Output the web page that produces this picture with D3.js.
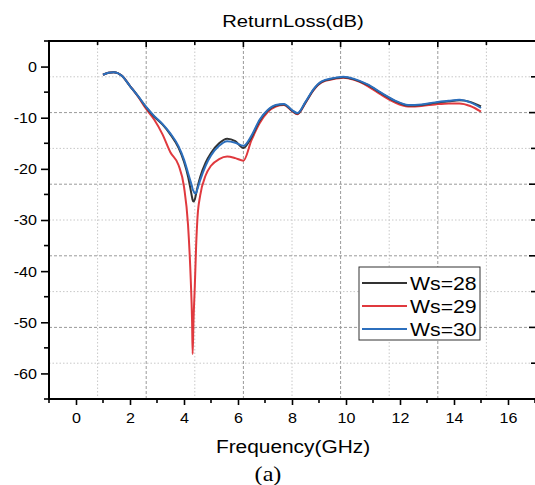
<!DOCTYPE html>
<html><head><meta charset="utf-8">
<script src="https://cdn.jsdelivr.net/npm/d3@7"></script>
<style>body{margin:0;background:#fff}svg{display:block}</style>
</head><body>
<svg id="chart" width="535" height="485"></svg>
<script>
const freq = [1.0,1.2,1.4,1.7,2.0,2.3,2.6,2.9,3.2,3.5,3.8,4.0,4.15,4.25,4.3,4.32,4.35,4.4,4.45,4.5,4.6,4.8,5.0,5.3,5.6,5.9,6.2,6.5,6.8,7.1,7.4,7.7,8.0,8.2,8.5,8.8,9.1,9.5,9.9,10.3,10.8,11.3,11.8,12.3,12.8,13.3,13.8,14.2,14.6,15.0];
const ws28 = [-1.6,-1.2,-1.1,-1.8,-3.8,-5.8,-8.0,-9.8,-11.3,-13.3,-15.9,-18.6,-21.5,-24.2,-25.6,-26.1,-26.4,-26.0,-24.8,-23.6,-21.6,-18.8,-16.9,-15.0,-14.1,-14.6,-15.9,-13.8,-10.6,-8.6,-7.6,-7.4,-8.6,-9.2,-7.0,-4.5,-3.0,-2.4,-2.1,-2.5,-3.6,-5.2,-6.7,-7.6,-7.5,-7.1,-6.8,-6.6,-6.9,-7.8];
const ws29 = [-1.6,-1.2,-1.1,-1.8,-3.8,-5.9,-8.3,-10.4,-13.2,-16.8,-19.3,-23.5,-31.0,-41.7,-50.0,-56.2,-50.0,-43.0,-35.0,-29.5,-25.2,-21.3,-19.4,-18.1,-17.6,-17.9,-18.4,-14.4,-11.1,-8.9,-7.8,-7.5,-8.7,-9.3,-7.1,-4.6,-3.1,-2.5,-2.2,-2.6,-3.8,-5.5,-7.0,-7.8,-7.7,-7.4,-7.2,-7.2,-7.7,-8.8];
const ws30 = [-1.6,-1.2,-1.1,-1.8,-3.8,-5.8,-7.9,-9.7,-11.2,-13.1,-15.6,-18.2,-20.8,-22.6,-23.5,-24.0,-24.3,-24.8,-24.7,-23.9,-22.2,-19.4,-17.4,-15.5,-14.6,-14.9,-15.5,-13.5,-10.4,-8.5,-7.5,-7.3,-8.5,-9.1,-6.9,-4.4,-2.9,-2.3,-2.0,-2.4,-3.5,-5.1,-6.6,-7.5,-7.4,-7.0,-6.7,-6.5,-7.0,-8.1];
const seriesNames = ["Ws=28","Ws=29","Ws=30"];
const seriesColors = ["#333333","#e0393e","#2c6fbd"];
const xTicks = [0,2,4,6,8,10,12,14,16];
const yTicks = [0,-10,-20,-30,-40,-50,-60];
const xGrid = [0.8,2.6,4.4,6.2,8.0,9.8,11.6,13.4,15.2];
const yGrid = [-2,-9,-16,-23,-30,-37,-44,-51,-58];
const titleText = "ReturnLoss(dB)";
const xLabel = "Frequency(GHz)";
const caption = "(a)";

const svg = d3.select("#chart");
const L = 49, R = 535, T = 41, B = 399;
const x = d3.scaleLinear().domain([-1,17]).range([L,R]);
const y = d3.scaleLinear().domain([-65,5]).range([B,T]);

// grid
const gMajorX = xGrid.filter((d,i)=>i%2===1), gMinorX = xGrid.filter((d,i)=>i%2===0);
const gMajorY = yGrid.filter((d,i)=>i%2===1), gMinorY = yGrid.filter((d,i)=>i%2===0);
const grid = svg.append("g");
grid.selectAll(".vmin").data(gMinorX).join("line").attr("x1",d=>x(d)).attr("x2",d=>x(d)).attr("y1",T).attr("y2",B)
  .attr("stroke","#c8c8c8").attr("stroke-width",1).attr("stroke-dasharray","1.5,2");
grid.selectAll(".vmaj").data(gMajorX).join("line").attr("x1",d=>x(d)).attr("x2",d=>x(d)).attr("y1",T).attr("y2",B)
  .attr("stroke","#9a9a9a").attr("stroke-width",1).attr("stroke-dasharray","3,2");
grid.selectAll(".hmin").data(gMinorY).join("line").attr("y1",d=>y(d)).attr("y2",d=>y(d)).attr("x1",L).attr("x2",R)
  .attr("stroke","#c8c8c8").attr("stroke-width",1).attr("stroke-dasharray","1.5,2");
grid.selectAll(".hmaj").data(gMajorY).join("line").attr("y1",d=>y(d)).attr("y2",d=>y(d)).attr("x1",L).attr("x2",R)
  .attr("stroke","#9a9a9a").attr("stroke-width",1).attr("stroke-dasharray","3,2");

// curves
const line = d3.line().x((d,i)=>x(freq[i])).y(d=>y(d)).curve(d3.curveMonotoneX);
const allSeries = [ws28, ws29, ws30];
const drawOrder = [1,0,2];
drawOrder.forEach(k=>{
  svg.append("path").datum(allSeries[k]).attr("d",line).attr("fill","none")
    .attr("stroke",seriesColors[k]).attr("stroke-width",2).attr("stroke-linejoin","round");
});

// axes
const font = "'Liberation Sans', Arial, sans-serif";
const xAxis = svg.append("g").attr("transform",`translate(0,${B})`)
  .call(d3.axisBottom(x).tickValues(xTicks).tickSize(6).tickFormat(d3.format("d")));
const yAxis = svg.append("g").attr("transform",`translate(${L},0)`)
  .call(d3.axisLeft(y).tickValues(yTicks).tickSize(8).tickFormat(d=>d===0?"0":String(d)));
[xAxis,yAxis].forEach(a=>{
  a.select(".domain").remove();
  a.selectAll(".tick line").attr("stroke","#000").attr("stroke-width",1.6);
  a.selectAll(".tick text").attr("font-family",font).attr("font-size",14).attr("fill","#000");
});
xAxis.selectAll(".tick text").attr("dy",null).attr("y",24)
  .attr("transform","scale(1.15,1)").attr("x",0);
yAxis.selectAll(".tick text").attr("x",-12).attr("dy","0.35em");
yAxis.selectAll(".tick text").each(function(){
  const t=d3.select(this); t.attr("transform","scale(1.15,1)").attr("x",-12/1.15);
});
// minor ticks
const xMinor = d3.range(-1,18,2);
svg.append("g").selectAll("line").data(xMinor).join("line")
  .attr("x1",d=>x(d)).attr("x2",d=>x(d)).attr("y1",B).attr("y2",B+4).attr("stroke","#000").attr("stroke-width",1.6);
const yMinor = d3.range(-65,6,10);
svg.append("g").selectAll("line").data(yMinor).join("line")
  .attr("y1",d=>y(d)).attr("y2",d=>y(d)).attr("x1",L-5).attr("x2",L).attr("stroke","#000").attr("stroke-width",1.6);
// top & right ticks (inward at grid positions)
svg.append("g").selectAll("line").data(xGrid).join("line")
  .attr("x1",d=>x(d)).attr("x2",d=>x(d)).attr("y1",T).attr("y2",(d,i)=>T+(i%2===1?6:4)).attr("stroke","#000").attr("stroke-width",1.6);
svg.append("g").selectAll("line").data(yGrid).join("line")
  .attr("y1",d=>y(d)).attr("y2",d=>y(d)).attr("x1",(d,i)=>R-(i%2===1?6:4)).attr("x2",R+2).attr("stroke","#000").attr("stroke-width",1.6);
// frame
svg.append("line").attr("x1",L).attr("x2",R+2).attr("y1",T).attr("y2",T).attr("stroke","#000").attr("stroke-width",2);
svg.append("line").attr("x1",L).attr("x2",R+2).attr("y1",B).attr("y2",B).attr("stroke","#000").attr("stroke-width",2);
svg.append("line").attr("x1",L).attr("x2",L).attr("y1",T-1).attr("y2",B+1).attr("stroke","#000").attr("stroke-width",2);

// texts
function stretched(txt,cx,cy,size,sx,fam){
  svg.append("text").attr("transform",`translate(${cx},${cy}) scale(${sx},1)`)
    .attr("text-anchor","middle").attr("font-family",fam||font).attr("font-size",size).attr("fill","#000").text(txt);
}
stretched(titleText,293,27,17,1.19);
stretched(xLabel,293,453,18,1.16);
stretched(caption,268,481,22,1.1,"'Liberation Serif','Times New Roman',serif");

// legend
const lg = svg.append("g");
lg.append("rect").attr("x",359).attr("y",267).attr("width",121).attr("height",73)
  .attr("fill","#fff").attr("stroke","#333").attr("stroke-width",1);
const legY = [283,306,329];
seriesNames.forEach((n,i)=>{
  lg.append("line").attr("x1",362).attr("x2",407).attr("y1",legY[i]).attr("y2",legY[i])
    .attr("stroke",seriesColors[i]).attr("stroke-width",2);
  lg.append("text").attr("transform",`translate(410,${legY[i]+6.5}) scale(1.18,1)`)
    .attr("font-family",font).attr("font-size",18).attr("fill","#000").text(n);
});
</script>
</body></html>
